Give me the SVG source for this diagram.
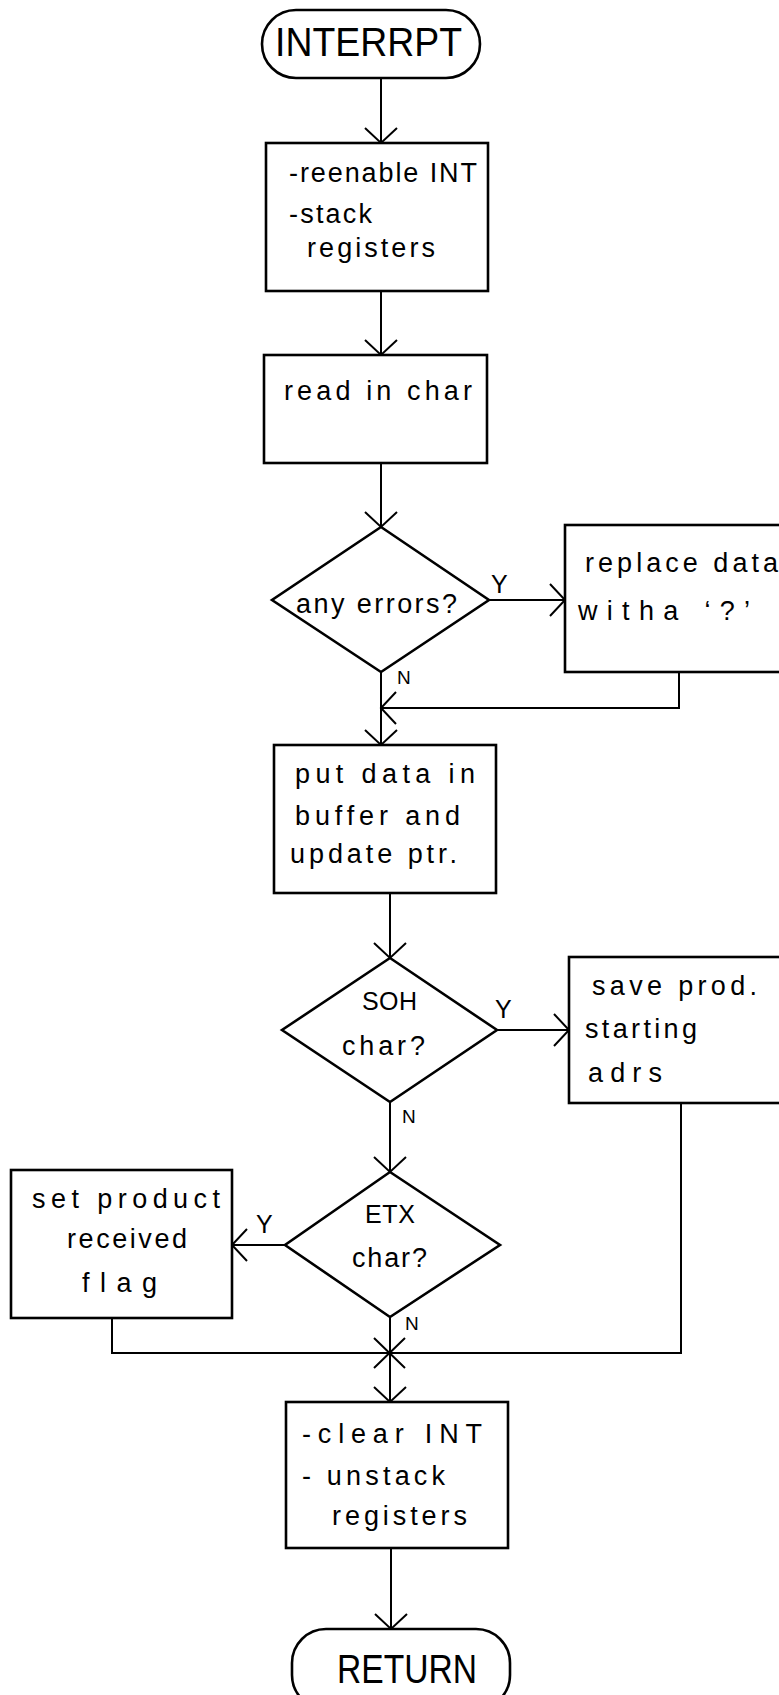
<svg xmlns="http://www.w3.org/2000/svg" width="779" height="1695" viewBox="0 0 779 1695">
<style>
.shape{fill:#fff;stroke:#000;stroke-width:2.6}
.conn{fill:none;stroke:#000;stroke-width:2}
text{font-family:"Liberation Sans","DejaVu Sans",sans-serif;fill:#000}
.t{font-size:27px}
.big{font-size:40px}
.lbl{font-size:25px}
.sm{font-size:19px}
</style>
<defs>
<marker id="arr" viewBox="-17 -18 19 36" refX="0" refY="0" markerWidth="19" markerHeight="36" markerUnits="userSpaceOnUse" orient="auto">
<path d="M-15,-16 L0,0 L-15,16" fill="none" stroke="#000" stroke-width="2"/>
</marker>
</defs>
<rect width="779" height="1695" fill="#fff"/>
<g id="connectors">
<path class="conn" d="M381,78 V143" marker-end="url(#arr)"/>
<path class="conn" d="M381,291 V355" marker-end="url(#arr)"/>
<path class="conn" d="M381,463 V527" marker-end="url(#arr)"/>
<path class="conn" d="M489,600 H565" marker-end="url(#arr)"/>
<path class="conn" d="M679,672 V708 H381" marker-end="url(#arr)"/>
<path class="conn" d="M381,672 V745" marker-end="url(#arr)"/>
<path class="conn" d="M390,893 V958" marker-end="url(#arr)"/>
<path class="conn" d="M497,1030 H569" marker-end="url(#arr)"/>
<path class="conn" d="M390,1102 V1172" marker-end="url(#arr)"/>
<path class="conn" d="M285,1245 H232" marker-end="url(#arr)"/>
<path class="conn" d="M390,1317 V1402" marker-end="url(#arr)"/>
<path class="conn" d="M374,1338 L405,1368 M405,1338 L374,1368"/>
<path class="conn" d="M112,1318 V1353 H681 V1103"/>
<path class="conn" d="M391,1548 V1629" marker-end="url(#arr)"/>
<text class="lbl" x="491" y="593">Y</text>
<text class="sm" x="397" y="684">N</text>
<text class="lbl" x="495" y="1018">Y</text>
<text class="sm" x="402" y="1123">N</text>
<text class="lbl" x="256" y="1233">Y</text>
<text class="sm" x="405" y="1330">N</text>
</g>
<g id="n-interrupt">
<rect class="shape" x="262" y="10" width="218" height="68" rx="34" ry="34"/>
<text class="big" x="275" y="56" textLength="187" lengthAdjust="spacingAndGlyphs">INTERRPT</text>
</g>
<g id="n-stack">
<rect class="shape" x="266" y="143" width="222" height="148"/>
<text class="t" x="289" y="182" textLength="188">-reenable INT</text>
<text class="t" x="289" y="223" textLength="83">-stack</text>
<text class="t" x="307" y="257" textLength="128">registers</text>
</g>
<g id="n-read">
<rect class="shape" x="264" y="355" width="223" height="108"/>
<text class="t" x="284" y="400" textLength="188">read in char</text>
</g>
<g id="n-errors">
<polygon class="shape" points="381,527 489,600 381,672 272,600"/>
<text class="t" x="296" y="613" textLength="161">any errors?</text>
</g>
<g id="n-replace">
<rect class="shape" x="565" y="525" width="230" height="147"/>
<text class="t" x="585" y="572" textLength="193">replace data</text>
<text class="t" x="578" y="620" textLength="172">witha ‘?’</text>
</g>
<g id="n-buffer">
<rect class="shape" x="274" y="745" width="222" height="148"/>
<text class="t" x="295" y="783" textLength="180">put data in</text>
<text class="t" x="295" y="825" textLength="165">buffer and</text>
<text class="t" x="290" y="863" textLength="167">update ptr.</text>
</g>
<g id="n-soh">
<polygon class="shape" points="390,958 497,1030 390,1102 282,1030"/>
<text class="lbl" x="362" y="1010" textLength="55">SOH</text>
<text class="t" x="342" y="1055" textLength="83">char?</text>
</g>
<g id="n-save">
<rect class="shape" x="569" y="957" width="226" height="146"/>
<text class="t" x="592" y="995" textLength="165">save prod.</text>
<text class="t" x="585" y="1038" textLength="112">starting</text>
<text class="t" x="588" y="1082" textLength="74">adrs</text>
</g>
<g id="n-etx">
<polygon class="shape" points="390,1172 500,1245 390,1317 285,1245"/>
<text class="lbl" x="365" y="1223" textLength="50">ETX</text>
<text class="t" x="352" y="1267" textLength="75">char?</text>
</g>
<g id="n-flag">
<rect class="shape" x="11" y="1170" width="221" height="148"/>
<text class="t" x="32" y="1208" textLength="188">set product</text>
<text class="t" x="67" y="1248" textLength="120">received</text>
<text class="t" x="82" y="1292" textLength="75">flag</text>
</g>
<g id="n-clear">
<rect class="shape" x="286" y="1402" width="222" height="146"/>
<text class="t" x="302" y="1443" textLength="180">-clear INT</text>
<text class="t" x="302" y="1485" textLength="143">- unstack</text>
<text class="t" x="332" y="1525" textLength="135">registers</text>
</g>
<g id="n-return">
<rect class="shape" x="292" y="1629" width="218" height="80" rx="34" ry="34"/>
<text class="big" x="337" y="1683" textLength="140" lengthAdjust="spacingAndGlyphs">RETURN</text>
</g>
</svg>
